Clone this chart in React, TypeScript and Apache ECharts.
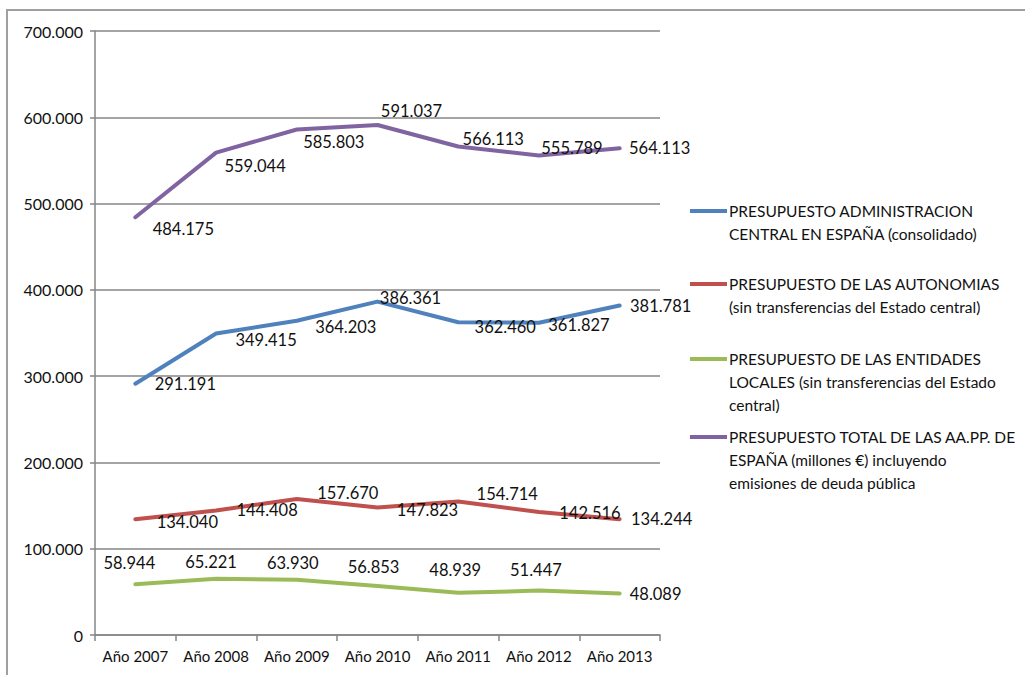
import React, { useEffect, useRef } from "react";
import * as echarts from "echarts";

const categories = ["Año 2007", "Año 2008", "Año 2009", "Año 2010", "Año 2011", "Año 2012", "Año 2013"];

const seriesNames = [
  "PRESUPUESTO ADMINISTRACION CENTRAL EN ESPAÑA (consolidado)",
  "PRESUPUESTO DE LAS AUTONOMIAS (sin transferencias del Estado central)",
  "PRESUPUESTO DE LAS ENTIDADES LOCALES (sin transferencias del Estado central)",
  "PRESUPUESTO TOTAL DE LAS AA.PP. DE ESPAÑA (millones €) incluyendo emisiones de deuda pública",
];

const legendLines = [
  ["PRESUPUESTO ADMINISTRACION", "CENTRAL EN ESPAÑA (consolidado)"],
  ["PRESUPUESTO DE LAS AUTONOMIAS", "(sin transferencias del Estado central)"],
  ["PRESUPUESTO DE LAS ENTIDADES", "LOCALES (sin transferencias del Estado", "central)"],
  ["PRESUPUESTO TOTAL DE LAS AA.PP. DE", "ESPAÑA (millones €) incluyendo", "emisiones de deuda pública"],
];

const central = [291191, 349415, 364203, 386361, 362460, 361827, 381781];
const autonomias = [134040, 144408, 157670, 147823, 154714, 142516, 134244];
const locales = [58944, 65221, 63930, 56853, 48939, 51447, 48089];
const total = [484175, 559044, 585803, 591037, 566113, 555789, 564113];

const colors = ["#4F81BD", "#C0504D", "#9BBB59", "#8064A2"];

// label offsets (px) from each point, as placed in the original
const centralOffsets = [[50, 0], [50, 6], [49, 6], [33, -4], [47, 5], [40, 2], [41, 0]];
const autonomiasOffsets = [[52, 3], [51, 0], [51, -6], [50, 3], [49, -8], [51, 1], [42, 0]];
const localesOffsets = [[-6, -21], [-5, -17], [-4, -17], [-4, -19], [-3, -23], [-3, -21], [36, 0]];
const totalOffsets = [[48, 12], [39, 13], [37, 12], [34, -14], [35, -8], [33, -7], [40, 0]];

const FONT = "Lato";
const TEXT_COLOR = "#111111";

const fmt = (v: number) => String(v).replace(/\B(?=(\d{3})+(?!\d))/g, ".");

export default function App() {
  const ref = useRef<HTMLDivElement>(null);
  useEffect(() => {
    if (!ref.current) return;
    const chart = echarts.init(ref.current, undefined, { renderer: "svg" });
    const mk = (name: string, values: number[], offsets: number[][], color: string) => ({
      name,
      type: "line",
      symbol: "circle",
      symbolSize: 1,
      itemStyle: { color },
      lineStyle: { color, width: 4, cap: "round", join: "round" },
      emphasis: { disabled: true },
      data: values.map((v, i) => ({
        value: v,
        label: { offset: offsets[i] },
      })),
      label: {
        show: true,
        position: "inside",
        color: TEXT_COLOR,
        fontFamily: FONT,
        fontSize: 16.5,
        formatter: (p: any) => fmt(p.value),
      },
    });

    const legendGraphics: any[] = [];
    const starts = [211, 284, 359, 437];
    legendLines.forEach((lines, k) => {
      legendGraphics.push({
        type: "line",
        shape: { x1: 690, y1: starts[k], x2: 727, y2: starts[k] },
        style: { stroke: colors[k], lineWidth: 4 },
      });
      lines.forEach((t, j) => {
        legendGraphics.push({
          type: "text",
          x: 729,
          y: starts[k] + j * 23,
          style: {
            text: t,
            fill: TEXT_COLOR,
            font: `15.5px ${FONT}`,
            verticalAlign: "middle",
            align: "left",
          },
        });
      });
    });

    chart.setOption({
      animation: false,
      backgroundColor: "#ffffff",
      grid: { left: 95, right: 365, top: 31, bottom: 40, containLabel: false },
      xAxis: {
        type: "category",
        data: categories,
        boundaryGap: true,
        axisLine: { lineStyle: { color: "#868686", width: 1.5 } },
        axisTick: { show: true, interval: 0, length: 6, lineStyle: { color: "#868686", width: 1.5 } },
        axisLabel: { interval: 0, color: TEXT_COLOR, fontFamily: FONT, fontSize: 15, margin: 13 },
        splitLine: { show: false },
      },
      yAxis: {
        type: "value",
        min: 0,
        max: 700000,
        interval: 100000,
        axisLine: { show: true, lineStyle: { color: "#868686", width: 1.5 } },
        axisTick: { show: true, length: 5, lineStyle: { color: "#868686", width: 1.5 } },
        axisLabel: { color: TEXT_COLOR, fontFamily: FONT, fontSize: 16, margin: 12, formatter: (v: number) => fmt(v) },
        splitLine: { show: true, lineStyle: { color: "#868686", width: 1.5 } },
      },
      graphic: [
        {
          type: "rect",
          shape: { x: 7, y: 10, width: 1040, height: 700 },
          style: { fill: "none", stroke: "#a0a0a0", lineWidth: 2 },
          silent: true,
        },
        ...legendGraphics,
      ],
      series: [
        mk(seriesNames[0], central, centralOffsets, colors[0]),
        mk(seriesNames[1], autonomias, autonomiasOffsets, colors[1]),
        mk(seriesNames[2], locales, localesOffsets, colors[2]),
        mk(seriesNames[3], total, totalOffsets, colors[3]),
      ],
    });
    return () => chart.dispose();
  }, []);
  return <div ref={ref} style={{ position: "fixed", left: 0, top: 0, width: 1025, height: 675 }} />;
}
